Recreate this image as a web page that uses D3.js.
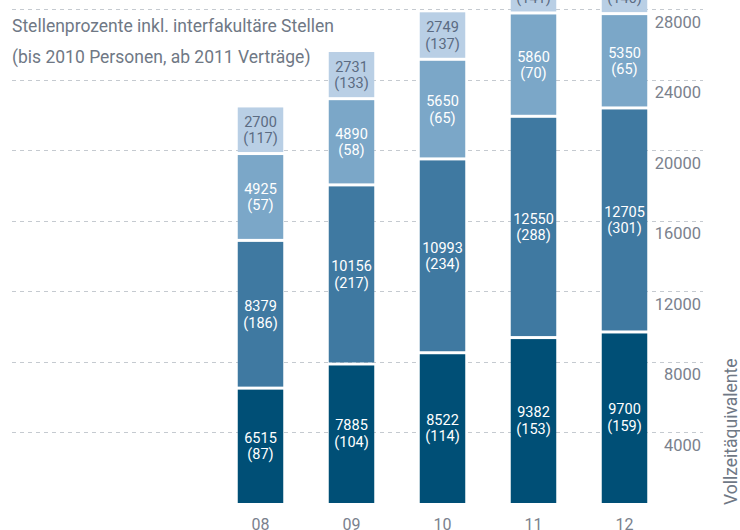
<!DOCTYPE html>
<html>
<head>
<meta charset="utf-8">
<script src="https://cdn.jsdelivr.net/npm/d3@7"></script>
<style>
  body { margin: 0; background: #fff; }
  text { font-family: Roboto, "Open Sans", sans-serif; }
</style>
</head>
<body>
<div id="chart"></div>
<script>
// years on the x axis
const years = ["08", "09", "10", "11", "12"];
// stacked segments, bottom to top: value (Vollzeitäquivalente) and count in brackets
const seg1 = [6515, 7885, 8522, 9382, 9700];
const seg1n = [87, 104, 114, 153, 159];
const seg2 = [8379, 10156, 10993, 12550, 12705];
const seg2n = [186, 217, 234, 288, 301];
const seg3 = [4925, 4890, 5650, 5860, 5350];
const seg3n = [57, 58, 65, 70, 65];
// top segments of 11 and 12 are cut off in the picture, values estimated
const seg4 = [2700, 2731, 2749, 2700, 2750];
const seg4n = [117, 133, 137, 141, 146];
const yTicks = [4000, 8000, 12000, 16000, 20000, 24000, 28000];

const segColors = ["#004f76", "#3f79a1", "#7ba7c8", "#b9cfe5"];
const labelColors = ["#ffffff", "#ffffff", "#ffffff", "#5b6b82"];

const svgWidth = 740;
const svgHeight = 530;

const svg = d3.select("#chart")
    .append("svg")
    .attr("width", svgWidth)
    .attr("height", svgHeight);

const x = d3.scaleBand()
    .domain(years)
    .range([215, 670])
    .paddingInner(0.5)
    .paddingOuter(0.25);

const y = d3.scaleLinear()
    .domain([0, 28000])
    .range([503, 9.3]);

// dashed grid lines
svg.selectAll(".grid")
    .data(yTicks)
    .join("line")
    .attr("class", "grid")
    .attr("x1", 12)
    .attr("x2", 703)
    .attr("y1", d => Math.round(y(d)) + 0.5)
    .attr("y2", d => Math.round(y(d)) + 0.5)
    .attr("stroke", "#c5cad0")
    .attr("stroke-width", 1)
    .attr("stroke-dasharray", "4,4");

// build stack rows
const layers = [[seg1, seg1n], [seg2, seg2n], [seg3, seg3n], [seg4, seg4n]];
const rows = [];
years.forEach((yr, i) => {
    let base = 0;
    layers.forEach((l, k) => {
        rows.push({ year: yr, k: k, v: l[0][i], n: l[1][i], y0: base, y1: base + l[0][i] });
        base += l[0][i];
    });
});

const gap = 1.5;
svg.selectAll(".seg")
    .data(rows)
    .join("rect")
    .attr("class", "seg")
    .attr("x", d => x(d.year))
    .attr("width", x.bandwidth())
    .attr("y", d => y(d.y1) + gap)
    .attr("height", d => y(d.y0) - y(d.y1) - (d.k === 0 ? gap : 2 * gap))
    .attr("fill", d => segColors[d.k]);

const labels = svg.selectAll(".lab")
    .data(rows)
    .join("text")
    .attr("class", "lab")
    .attr("text-anchor", "middle")
    .attr("font-size", 14.5)
    .attr("fill", d => labelColors[d.k])
    .attr("transform", d => `translate(${x(d.year) + x.bandwidth() / 2},${(y(d.y0) + y(d.y1)) / 2})`);

labels.append("tspan")
    .attr("x", 0)
    .attr("y", -3)
    .text(d => d.v);
labels.append("tspan")
    .attr("x", 0)
    .attr("y", 13.5)
    .text(d => "(" + d.n + ")");

// y axis labels on the right
const yAxis = svg.append("g")
    .attr("transform", "translate(701,0)")
    .call(d3.axisRight(y).tickValues(yTicks).tickFormat(d3.format("d")).tickSize(0).tickPadding(0));
yAxis.select(".domain").remove();
yAxis.selectAll("text")
    .attr("text-anchor", "end")
    .attr("dy", 0)
    .attr("y", 18)
    .attr("font-size", 16.5)
    .attr("font-family", "Roboto, sans-serif")
    .attr("fill", "#7a818d");

// x axis labels
const xAxis = svg.append("g")
    .attr("transform", "translate(0,530)")
    .call(d3.axisBottom(x).tickSize(0).tickPadding(0));
xAxis.select(".domain").remove();
xAxis.selectAll("text")
    .attr("dy", 0)
    .attr("y", 0)
    .attr("font-size", 16)
    .attr("font-family", "Roboto, sans-serif")
    .attr("fill", "#7a818d");

// axis title
svg.append("text")
    .attr("transform", "translate(737,505) rotate(-90)")
    .attr("font-size", 17.5)
    .attr("fill", "#6f7885")
    .text("Vollzeitäquivalente");

// chart title
svg.append("text")
    .attr("x", 12)
    .attr("y", 32)
    .attr("font-size", 17.5)
    .attr("fill", "#6f7885")
    .text("Stellenprozente inkl. interfakultäre Stellen");
svg.append("text")
    .attr("x", 12)
    .attr("y", 63)
    .attr("font-size", 17.5)
    .attr("fill", "#6f7885")
    .text("(bis 2010 Personen, ab 2011 Verträge)");
</script>
</body>
</html>
